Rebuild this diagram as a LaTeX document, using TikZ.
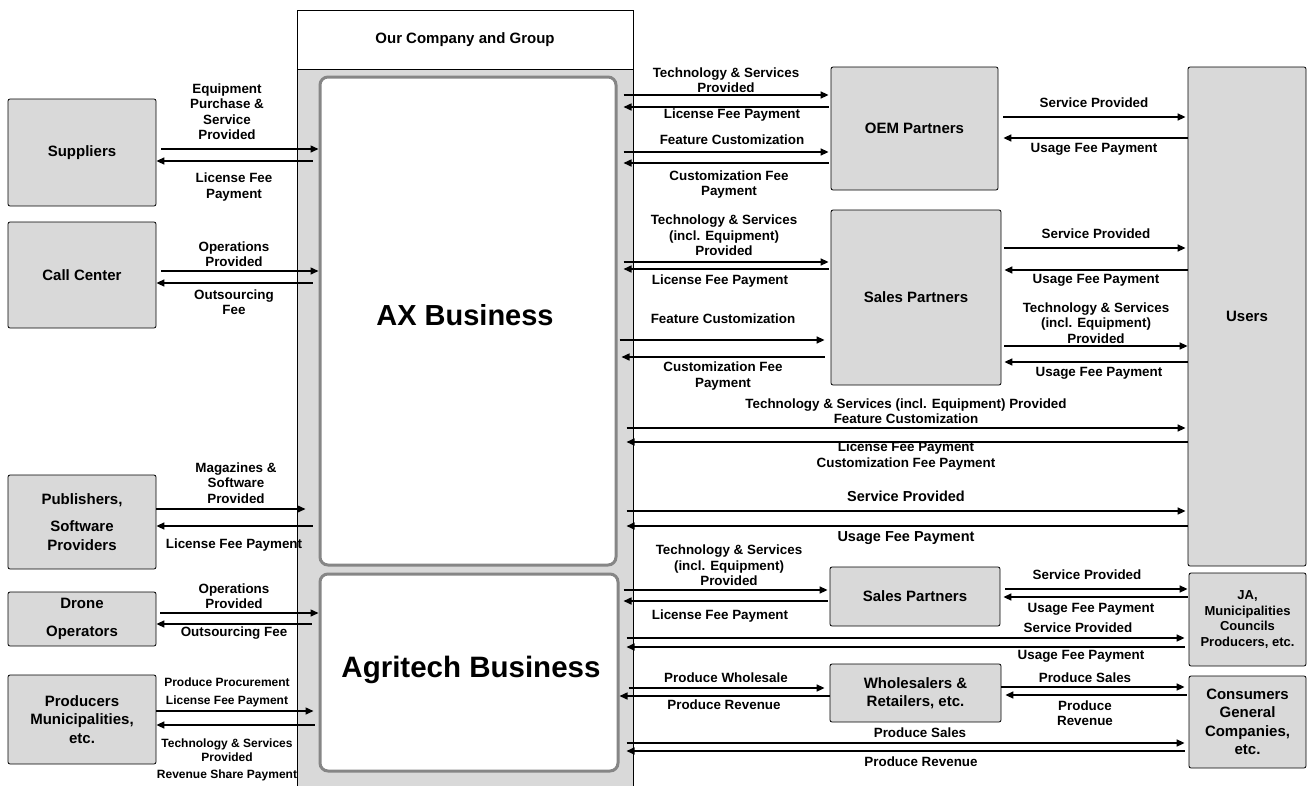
\documentclass[tikz,border=0pt]{standalone}
\usepackage{fontspec}
\setmainfont{Liberation Sans}
\usetikzlibrary{arrows.meta}
\definecolor{BMFill}{HTML}{D9D9D9}
\definecolor{BMFrame}{HTML}{868686}
\tikzset{
  party/.style={draw=black,line width=0.8pt,fill=BMFill,rounded corners=2pt,inner sep=0pt,align=center,font=\fontsize{15}{18.5}\selectfont\bfseries},
  unit/.style={draw=BMFrame,line width=3pt,fill=white,rounded corners=8pt,inner sep=0pt},
  flow/.style={line width=1.5pt,-{Triangle[length=8pt,width=7pt]}},
  lbl/.style={inner sep=0pt,align=center,font=\fontsize{13.4}{15.5}\selectfont\bfseries},
  small/.style={font=\fontsize{12}{14}\selectfont\bfseries},
}
\begin{document}
\begin{tikzpicture}[x=1pt,y=-1pt]
\path[use as bounding box] (0,0) rectangle (1307,785);
% group frame
\node[draw=black,line width=0.8pt,fill=BMFill,inner sep=0pt,minimum width=336pt,minimum height=780pt] (grp) at (465,400) {};
\node[draw=black,line width=0.8pt,fill=white,inner sep=0pt,minimum width=336pt,minimum height=59pt,font=\fontsize{15}{18}\selectfont\bfseries] (hdr) at (465,39.5) {Our Company and Group};
\node[unit,minimum width=296pt,minimum height=488pt] (ax) at (468,321) {};
\node[unit,minimum width=298pt,minimum height=197pt] (agri) at (469,672.5) {};
\node[inner sep=0pt,font=\fontsize{29}{33}\selectfont\bfseries] (axT) at (465,315) {AX Business};
\node[inner sep=0pt,font=\fontsize{29.5}{33}\selectfont\bfseries] (agriT) at (471,670) {Agritech Business};
% left parties
\node[party,minimum width=148pt,minimum height=107pt] (supp) at (82,152.5) {Suppliers};
\node[party,minimum width=148pt,minimum height=106pt] (call) at (82,275) {Call Center};
\node[party,minimum width=148pt,minimum height=94pt] (pub) at (82,522) {Publishers,\\[9pt]Software\\Providers};
\node[party,minimum width=148pt,minimum height=54pt] (drone) at (82,619) {Drone\\[10pt]Operators};
\node[party,minimum width=148pt,minimum height=89pt] (prod) at (82,719.5) {Producers\\Municipalities,\\etc.};
% right parties
\node[party,minimum width=167pt,minimum height=123pt] (oem) at (914.5,128.5) {OEM Partners};
\node[party,minimum width=170pt,minimum height=175pt] (salesA) at (916,297.5) {Sales Partners};
\node[party,minimum width=118pt,minimum height=499pt] (users) at (1247,316.5) {Users};
\node[party,minimum width=170pt,minimum height=59pt] (salesB) at (915,596.5) {Sales Partners};
\node[party,minimum width=171pt,minimum height=58pt] (whole) at (915.5,693) {Wholesalers \&\\Retailers, etc.};
\node[party,minimum width=117pt,minimum height=93pt,font=\fontsize{13}{15.7}\selectfont\bfseries] (ja) at (1247.5,619.5) {JA,\\Municipalities\\Councils\\Producers, etc.};
\node[party,minimum width=117pt,minimum height=92pt] (cons) at (1247.5,722) {Consumers\\General\\Companies,\\etc.};
% flows on the left
\draw[flow,shorten <=5pt] (supp.east |- 0,149) -- (ax.west |- 0,149);
\draw[flow,shorten <=6pt] (ax.west |- 0,161) -- (supp.east |- 0,161);
\draw[flow,shorten <=5pt] (call.east |- 0,271) -- (ax.west |- 0,271);
\draw[flow,shorten <=6pt] (ax.west |- 0,283) -- (call.east |- 0,283);
\draw[flow,shorten >=13pt] (pub.east |- 0,509) -- (ax.west |- 0,509);
\draw[flow,shorten <=6pt] (ax.west |- 0,526) -- (pub.east |- 0,526);
\draw[flow,shorten <=4pt] (drone.east |- 0,613) -- (agri.west |- 0,613);
\draw[flow,shorten <=7pt] (agri.west |- 0,624) -- (drone.east |- 0,624);
\draw[flow,shorten >=5pt] (prod.east |- 0,711) -- (agri.west |- 0,711);
\draw[flow,shorten <=4pt] (agri.west |- 0,725) -- (prod.east |- 0,725);
\node[lbl] (lEquip) at (227,111.5) {Equipment\\Purchase \&\\Service\\Provided};
\node[lbl] (lSuppFee) at (234,187) {License Fee\\Payment};
\node[lbl] (lCallOps) at (234,254) {Operations\\Provided};
\node[lbl] (lCallFee) at (234,302) {Outsourcing\\Fee};
\node[lbl] (lMag) at (236,483) {Magazines \&\\Software\\Provided};
\node[lbl] (lPubFee) at (234,545) {License Fee Payment};
\node[lbl] (lDroneOps) at (234,596) {Operations\\Provided};
\node[lbl] (lDroneFee) at (234,633) {Outsourcing Fee};
\node[lbl,font=\fontsize{12}{18}\selectfont\bfseries] (lProcure) at (227,692) {Produce Procurement\\License Fee Payment};
\node[lbl,small] (lProdTech) at (227,750) {Technology \& Services\\Provided};
\node[lbl,small] (lShare) at (227,775) {Revenue Share Payment};
% OEM partners
\draw[flow,shorten <=6pt,shorten >=2pt] (ax.east |- 0,95) -- (oem.west |- 0,95);
\draw[flow,shorten <=2pt,shorten >=6pt] (oem.west |- 0,107) -- (ax.east |- 0,107);
\draw[flow,shorten <=6pt,shorten >=2pt] (ax.east |- 0,152) -- (oem.west |- 0,152);
\draw[flow,shorten <=2pt,shorten >=6pt] (oem.west |- 0,163) -- (ax.east |- 0,163);
\draw[flow,shorten <=5pt,shorten >=2pt] (oem.east |- 0,117) -- (users.west |- 0,117);
\draw[flow,shorten >=5pt] (users.west |- 0,138) -- (oem.east |- 0,138);
\node[lbl] (oTech) at (726,80) {Technology \& Services\\Provided};
\node[lbl] (oFee) at (732,115) {License Fee Payment};
\node[lbl] (oCust) at (732,140) {Feature Customization};
\node[lbl] (oCustFee) at (729,184.5) {Customization Fee\\Payment};
\node[lbl] (oServ) at (1094,103) {Service Provided};
\node[lbl] (oUse) at (1094,149) {Usage Fee Payment};
% sales partners
\draw[flow,shorten <=6pt,shorten >=2pt] (ax.east |- 0,262) -- (salesA.west |- 0,262);
\draw[flow,shorten <=2pt,shorten >=6pt] (salesA.west |- 0,269) -- (ax.east |- 0,269);
\draw[flow,shorten <=2pt,shorten >=6pt] (ax.east |- 0,340) -- (salesA.west |- 0,340);
\draw[flow,shorten <=6pt,shorten >=4pt] (salesA.west |- 0,357) -- (ax.east |- 0,357);
\draw[flow,shorten <=3pt,shorten >=2pt] (salesA.east |- 0,248) -- (users.west |- 0,248);
\draw[flow,shorten >=3pt] (users.west |- 0,270) -- (salesA.east |- 0,270);
\draw[flow,shorten <=3pt] (salesA.east |- 0,346) -- (users.west |- 0,346);
\draw[flow,shorten >=3pt] (users.west |- 0,362) -- (salesA.east |- 0,362);
\node[lbl] (sTech) at (724,235.5) {Technology \& Services\\(incl. Equipment)\\Provided};
\node[lbl] (sFee) at (720,281) {License Fee Payment};
\node[lbl] (sCust) at (723,319) {Feature Customization};
\node[lbl] (sCustFee) at (723,376) {Customization Fee\\Payment};
\node[lbl] (sServ) at (1096,234) {Service Provided};
\node[lbl] (sUse) at (1096,280) {Usage Fee Payment};
\node[lbl] (sTechU) at (1096,323) {Technology \& Services\\(incl. Equipment)\\Provided};
\node[lbl] (sUseB) at (1099,373) {Usage Fee Payment};
% direct to users
\draw[flow,shorten <=9pt,shorten >=2pt] (ax.east |- 0,428) -- (users.west |- 0,428);
\draw[flow,shorten >=9pt] (users.west |- 0,442) -- (ax.east |- 0,442);
\draw[flow,shorten <=9pt,shorten >=2pt] (ax.east |- 0,511) -- (users.west |- 0,511);
\draw[flow,shorten >=9pt] (users.west |- 0,526) -- (ax.east |- 0,526);
\node[lbl] (dTech) at (906,411) {Technology \& Services (incl. Equipment) Provided\\Feature Customization};
\node[lbl] (dFee) at (906,456) {License Fee Payment\\Customization Fee Payment};
\node[lbl,font=\fontsize{14.5}{17}\selectfont\bfseries] (dServ) at (906,496) {Service Provided};
\node[lbl,font=\fontsize{14.5}{17}\selectfont\bfseries] (dUse) at (906,538) {Usage Fee Payment};
% agritech partners
\draw[flow,shorten <=4pt,shorten >=2pt] (agri.east |- 0,590) -- (salesB.west |- 0,590);
\draw[flow,shorten <=2pt,shorten >=4pt] (salesB.west |- 0,601) -- (agri.east |- 0,601);
\draw[flow,shorten <=5pt,shorten >=1pt] (salesB.east |- 0,589) -- (ja.west |- 0,589);
\draw[flow,shorten <=1pt,shorten >=3pt] (ja.west |- 0,597) -- (salesB.east |- 0,597);
\draw[flow,shorten <=7pt,shorten >=4pt] (agri.east |- 0,638) -- (ja.west |- 0,638);
\draw[flow,shorten <=4pt,shorten >=7pt] (ja.west |- 0,647) -- (agri.east |- 0,647);
\draw[flow,shorten <=9pt,shorten >=5pt] (agri.east |- 0,688) -- (whole.west |- 0,688);
\draw[flow] (whole.west |- 0,696) -- (agri.east |- 0,696);
\draw[flow,shorten >=4pt] (whole.east |- 0,687) -- (cons.west |- 0,687);
\draw[flow,shorten <=2pt,shorten >=4pt] (cons.west |- 0,695) -- (whole.east |- 0,695);
\draw[flow,shorten <=7pt,shorten >=4pt] (agri.east |- 0,743) -- (cons.west |- 0,743);
\draw[flow,shorten <=4pt,shorten >=7pt] (cons.west |- 0,751) -- (agri.east |- 0,751);
\node[lbl] (gTech) at (729,565.5) {Technology \& Services\\(incl. Equipment)\\Provided};
\node[lbl] (gFee) at (720,616) {License Fee Payment};
\node[lbl] (gServ) at (1087,575) {Service Provided};
\node[lbl] (gUse) at (1091,609) {Usage Fee Payment};
\node[lbl] (jServ) at (1078,628) {Service Provided};
\node[lbl] (jUse) at (1081,656) {Usage Fee Payment};
\node[lbl] (wSale) at (726,678) {Produce Wholesale};
\node[lbl] (wRev) at (724,705) {Produce Revenue};
\node[lbl] (cSale) at (1085,678) {Produce Sales};
\node[lbl] (cRev) at (1085,713) {Produce\\Revenue};
\node[lbl] (dSale) at (920,733) {Produce Sales};
\node[lbl] (dRev) at (921,762) {Produce Revenue};
\end{tikzpicture}
\end{document}
